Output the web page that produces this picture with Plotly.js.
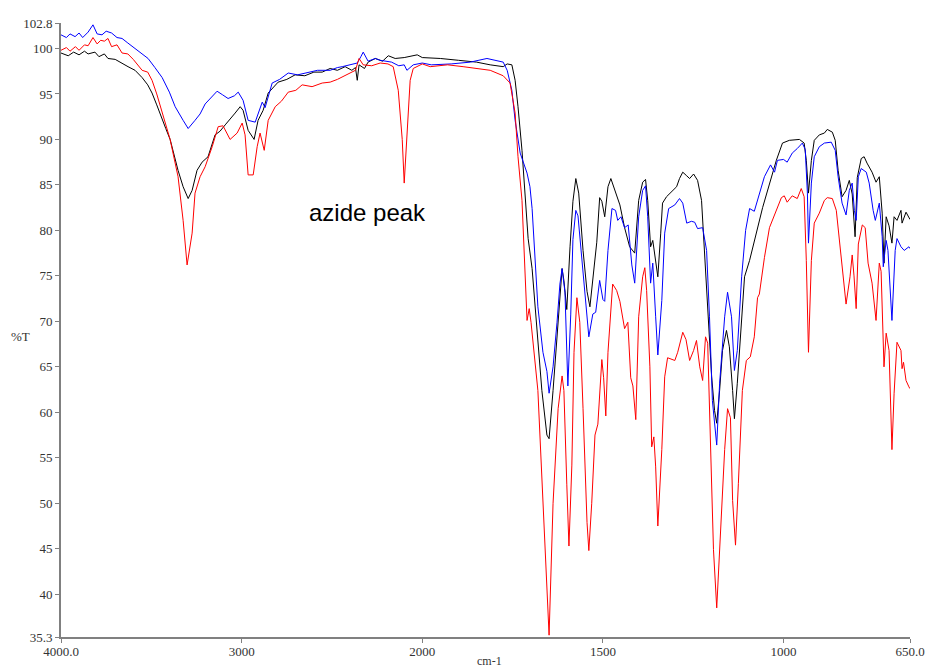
<!DOCTYPE html>
<html>
<head>
<meta charset="utf-8">
<script src="https://cdn.plot.ly/plotly-3.0.1.min.js"></script>
<style>html,body{margin:0;padding:0;background:#fff;}#chart{width:926px;height:670px;}</style>
</head>
<body>
<div id="chart"></div>
<script>
// ---- Data (wavenumber cm-1, %T) ----
const blackWn = [4000,3960,3930,3900,3870,3850,3812,3790,3760,3740,3700,3660,3629,3590,3551,3520,3496,3470,3440,3420,3396,3370,3352,3324,3296,3274,3247,3219,3186,3147,3120,3091,3060,3036,3008,2992,2964,2931,2909,2881,2853,2830,2798,2750,2704,2650,2600,2554,2510,2470,2427,2390,2370,2360,2350,2320,2300,2260,2220,2188,2150,2100,2060,2028,2000,1950,1900,1850,1812,1776,1765,1752,1743,1735,1724,1716,1707,1696,1682,1669,1655,1649,1638,1624,1613,1608,1600,1591,1583,1575,1567,1555,1544,1536,1528,1517,1509,1503,1495,1486,1478,1467,1453,1440,1426,1412,1401,1390,1382,1376,1368,1362,1348,1340,1335,1324,1310,1296,1288,1279,1268,1260,1249,1238,1227,1219,1210,1199,1191,1185,1177,1169,1158,1150,1141,1136,1128,1116,1108,1094,1081,1067,1058,1039,1020,1003,984,956,943,937,931,923,915,901,887,879,865,857,849,838,827,818,810,802,796,785,777,769,755,744,735,727,722,716,708,700,694,686,675,672,661,650];
const blackT  = [99.5,99.2,99.6,99.3,99.7,99.4,99.6,99.1,99.4,98.9,98.8,98.4,98.0,97.6,96.8,96.0,95.1,93.8,92.1,91.2,90.0,88.0,86.6,84.8,83.5,84.4,86.6,87.5,88.1,90.5,90.9,91.6,92.3,92.9,93.6,93.2,91.0,90.0,92.1,93.2,95.1,95.6,96.3,96.6,97.1,97.0,97.4,97.4,97.8,97.6,98.0,97.6,97.9,96.5,98.2,97.8,98.5,98.9,98.6,99.2,98.9,99.0,99.2,99.3,99.0,98.9,98.7,98.5,98.2,98.0,98.3,98.2,96.5,93.6,88.8,84.1,79.1,75.8,68.7,62.4,57.5,57.1,62.4,69.9,75.8,74.5,71.3,78.2,83.2,85.7,84.1,77.8,73.3,71.6,74.9,78.7,83.6,83.2,81.5,84.8,85.7,84.4,82.8,80.3,78.2,77.5,83.3,85.3,85.6,83.3,78.2,78.9,74.9,79.7,83.0,83.7,84.2,84.8,85.7,86.4,86.0,85.7,86.2,85.5,83.3,77.8,70.5,63.9,60.2,58.8,62.4,66.8,69.0,67.2,62.4,59.3,63.2,70.5,74.9,76.7,78.9,81.1,82.5,85.1,87.7,89.6,89.9,90.0,89.6,87.7,84.1,87.7,89.9,90.5,90.7,91.1,90.8,89.9,86.6,83.7,84.4,85.5,84.0,79.3,85.8,87.9,88.1,87.4,86.4,85.3,85.9,81.9,76.4,81.5,80.5,78.6,81.5,81.1,82.2,80.8,82.0,81.2];

const blueWn = [4000,3970,3950,3922,3900,3880,3850,3823,3800,3773,3750,3720,3690,3662,3630,3590,3560,3518,3480,3440,3400,3368,3324,3296,3258,3230,3202,3170,3136,3105,3075,3040,3019,2992,2964,2925,2900,2886,2870,2850,2831,2790,2742,2690,2632,2580,2510,2470,2443,2399,2360,2340,2327,2300,2260,2233,2170,2130,2100,2085,2050,2000,1975,1920,1867,1821,1776,1765,1752,1743,1729,1710,1702,1696,1688,1680,1666,1655,1649,1638,1627,1619,1613,1605,1597,1589,1583,1575,1569,1558,1550,1539,1528,1520,1509,1500,1495,1486,1475,1465,1459,1450,1440,1430,1420,1412,1401,1390,1382,1376,1368,1362,1354,1348,1337,1329,1318,1301,1288,1279,1268,1255,1246,1238,1224,1213,1205,1197,1185,1177,1163,1155,1144,1136,1128,1116,1105,1094,1081,1067,1053,1036,1025,1017,1000,990,976,962,948,940,934,931,923,915,901,887,868,857,849,838,827,818,810,804,799,793,785,771,763,752,746,735,727,724,716,711,700,691,686,675,666,653,650];
const blueT  = [101.5,101.2,101.6,101.3,101.7,101.2,101.8,102.6,101.6,101.5,101.9,101.7,101.2,101.1,100.6,100.0,99.6,98.9,97.9,96.8,95.2,93.6,92.1,91.2,92.1,92.8,93.9,94.6,95.3,94.9,94.5,94.8,95.2,94.3,92.1,91.9,93.4,94.1,93.5,95.0,96.2,96.6,97.3,97.1,97.4,97.6,97.6,97.9,98.0,98.2,98.4,99.1,99.6,98.6,98.9,98.7,98.5,98.1,98.2,97.6,98.2,98.4,98.2,98.3,98.5,98.9,98.5,97.6,95.4,92.1,88.5,86.3,84.8,82.4,76.5,71.6,66.6,64.5,62.1,65.0,69.9,74.1,75.8,73.2,62.9,70.8,79.0,82.2,81.6,76.9,72.9,68.3,70.8,71.0,74.5,72.4,72.2,77.8,82.4,82.2,81.1,81.5,80.3,80.6,76.2,74.2,81.5,84.4,84.9,81.5,74.2,76.4,70.5,66.3,72.3,79.7,82.4,82.8,83.5,83.0,80.8,81.0,80.9,80.2,80.3,77.8,70.5,61.3,56.4,63.2,70.5,73.2,70.5,64.6,66.8,74.9,80.0,82.4,82.1,84.1,85.9,87.2,86.4,87.7,87.8,87.5,88.5,89.0,89.6,88.9,84.1,78.6,85.2,88.1,89.2,89.6,89.7,88.8,85.9,83.0,81.7,84.4,85.2,82.2,81.1,85.9,86.8,86.4,85.2,82.2,81.1,83.0,79.3,76.0,78.9,77.8,70.1,77.8,79.1,78.2,77.8,78.2,78.0];

const redWn = [4000,3970,3950,3920,3900,3870,3850,3823,3800,3780,3760,3740,3720,3690,3662,3630,3600,3551,3520,3496,3470,3440,3396,3352,3324,3302,3274,3258,3230,3202,3163,3130,3103,3064,3025,2997,2981,2964,2936,2914,2898,2875,2853,2814,2780,2742,2700,2665,2610,2554,2510,2470,2427,2399,2370,2350,2327,2280,2233,2190,2161,2133,2111,2100,2083,2067,2050,2000,1978,1930,1887,1850,1812,1776,1757,1743,1735,1724,1718,1710,1704,1699,1680,1666,1649,1638,1624,1613,1608,1600,1594,1586,1580,1572,1564,1555,1544,1539,1531,1522,1514,1503,1498,1492,1486,1473,1462,1453,1440,1431,1423,1417,1409,1401,1390,1384,1379,1370,1365,1359,1354,1348,1337,1329,1321,1301,1293,1279,1270,1260,1249,1241,1232,1224,1216,1210,1202,1194,1185,1177,1163,1155,1147,1141,1133,1125,1114,1103,1092,1081,1072,1067,1053,1039,1025,1017,1006,998,990,976,962,951,943,937,931,923,915,901,887,879,865,854,846,838,827,816,810,805,799,793,782,774,766,755,744,735,730,722,716,708,700,694,686,675,672,668,661,653,650];
const redT  = [99.8,100.1,99.7,100.2,99.8,100.4,100.3,101.2,100.5,100.9,100.8,101.1,100.2,100.4,99.5,99.4,98.8,97.6,97.4,96.5,95.0,92.9,90.0,85.9,81.1,76.2,79.7,84.1,85.9,87.0,89.2,91.4,91.5,90.0,90.7,91.8,90.5,86.1,86.1,89.2,90.7,88.8,92.1,93.6,94.2,95.2,95.4,96.0,95.8,96.2,96.3,96.6,97.0,97.3,97.6,98.9,98.2,98.1,98.4,98.3,98.0,95.4,90.0,85.2,91.8,96.5,97.8,98.3,98.0,98.2,98.0,97.8,97.6,97.0,96.2,92.9,88.1,83.3,77.8,70.1,71.4,69.9,62.4,50.0,35.5,50.0,60.4,64.0,62.4,52.1,45.3,54.2,66.6,72.6,69.9,60.4,47.9,44.8,50.0,57.5,58.7,65.8,63.8,59.6,66.6,74.1,73.4,72.2,69.2,69.9,63.8,62.9,59.2,70.5,74.9,75.9,73.4,65.0,56.2,57.3,54.0,47.5,55.9,63.9,66.0,65.7,66.6,68.8,68.0,65.7,66.8,67.9,65.0,63.5,68.3,67.6,55.9,44.9,38.5,44.9,55.9,60.4,59.4,50.3,45.4,52.2,62.4,65.7,66.1,68.3,72.6,73.0,77.0,80.3,81.7,82.3,83.6,83.8,83.1,83.8,83.5,84.6,83.7,76.7,66.6,76.7,80.8,81.9,83.3,83.6,83.5,82.2,79.2,75.6,71.9,74.9,77.3,75.0,71.4,78.5,80.6,80.3,76.4,74.2,70.1,76.4,75.5,65.0,68.7,66.8,55.9,62.1,67.7,66.8,64.8,65.5,63.5,62.8,62.6];

const xTickWn = [4000, 3000, 2000, 1500, 1000, 650];
const xTickText = ["4000.0", "3000", "2000", "1500", "1000", "650.0"];
const yTickVals = [35.3, 40, 45, 50, 55, 60, 65, 70, 75, 80, 85, 90, 95, 100, 102.8];
const yTickText = ["35.3", "40", "45", "50", "55", "60", "65", "70", "75", "80", "85", "90", "95", "100", "102.8"];

// Spectrometer-style axis: scale doubles below 2000 cm-1
function toAxis(wn) { return wn >= 2000 ? 4000 - wn : 2000 + 2 * (2000 - wn); }

function trace(wn, t, color) {
  return { x: wn.map(toAxis), y: t, type: 'scatter', mode: 'lines',
           line: { color: color, width: 1 }, hoverinfo: 'skip' };
}

const tickFont = { family: 'Liberation Serif, Times New Roman, serif', size: 13, color: '#333' };
const axisCommon = { showline: true, linecolor: '#808080', linewidth: 2, ticks: 'outside',
  ticklen: 4, tickcolor: '#808080', tickwidth: 1, showgrid: false, zeroline: false,
  tickfont: tickFont, fixedrange: true };

const layout = {
  width: 926, height: 670,
  margin: { l: 61, r: 16, t: 23, b: 33 },
  paper_bgcolor: '#fff', plot_bgcolor: '#fff',
  showlegend: false,
  xaxis: Object.assign({}, axisCommon, { range: [0, 4700], tickmode: 'array',
    tickvals: xTickWn.map(toAxis), ticktext: xTickText, ticklabelstandoff: -3 }),
  yaxis: Object.assign({}, axisCommon, { range: [35.3, 102.8], tickmode: 'array',
    tickvals: yTickVals, ticktext: yTickText }),
  annotations: [
    { text: 'azide peak', xref: 'paper', yref: 'paper', x: 0.3616, y: 0.6906,
      xanchor: 'center', yanchor: 'middle', showarrow: false,
      font: { family: 'Liberation Sans, Arial, sans-serif', size: 24, color: '#000' } },
    { text: '%T', xref: 'paper', yref: 'paper', x: -0.048, y: 0.489,
      xanchor: 'center', yanchor: 'middle', showarrow: false, font: tickFont },
    { text: 'cm-1', xref: 'paper', yref: 'paper', x: 0.505, y: -0.0255,
      xanchor: 'center', yanchor: 'top', showarrow: false, borderpad: 0,
      font: { family: 'Liberation Serif, Times New Roman, serif', size: 12, color: '#333' } }
  ]
};

Plotly.newPlot('chart', [
  trace(blackWn, blackT, '#000000'),
  trace(blueWn, blueT, '#0000ff'),
  trace(redWn, redT, '#ff0000')
], layout, { staticPlot: true, displayModeBar: false });
</script>
</body>
</html>
